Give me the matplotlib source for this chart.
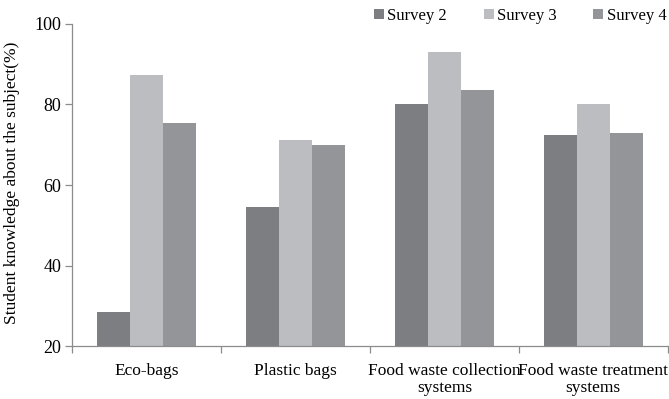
import numpy as np
import matplotlib.pyplot as plt
from matplotlib.ticker import FixedLocator

plt.rcParams['font.family'] = ['Liberation Serif', 'DejaVu Serif']

# knowledge scores per topic, one list per survey round
categories = ["Eco-bags", "Plastic bags", "Food waste collection\nsystems",
              "Food waste treatment\nsystems"]
survey2 = [28.6, 54.7, 80.2, 72.5]
survey3 = [87.4, 71.2, 93.1, 80.2]
survey4 = [75.3, 70.0, 83.5, 72.9]
series_names = ["Survey 2", "Survey 3", "Survey 4"]
yticks = [20, 40, 60, 80, 100]

colors = ["#7d7e82", "#bcbdc1", "#949599"]
axis_grey = "#8c8c8c"

fig = plt.figure(figsize=(6.69, 3.99), dpi=100)
ax = fig.add_axes([0.108, 0.1316, 0.890, 0.8088])

x = np.arange(len(categories))
w = 0.2215
bars = []
for i, (vals, c) in enumerate(zip([survey2, survey3, survey4], colors)):
    b = ax.bar(x + (i - 1) * w, vals, width=w, color=c, bottom=0,
               edgecolor='none', zorder=2)
    bars.append(b)

ax.set_xlim(-0.5, len(categories) - 0.5)
ax.set_ylim(20, 100)
ax.set_yticks(yticks)
ax.set_xticks(x)
ax.set_xticklabels(categories, fontsize=12.5, linespacing=1.05)
ax.xaxis.set_minor_locator(FixedLocator(np.arange(-0.5, len(categories), 1.0)))
ax.tick_params(axis='x', which='major', length=0, pad=12)
ax.tick_params(axis='x', which='minor', length=5, color=axis_grey, width=0.9,
               direction='out')
ax.tick_params(axis='y', length=5, color=axis_grey, width=0.9, labelsize=13,
               pad=3)

for s in ['top', 'right']:
    ax.spines[s].set_visible(False)
for s in ['left', 'bottom']:
    ax.spines[s].set_color(axis_grey)
    ax.spines[s].set_linewidth(0.9)

ax.set_ylabel("Student knowledge about the subject(%)", fontsize=12.5)
ax.yaxis.set_label_coords(-0.088, 0.508)

fig.legend(bars, series_names, loc='upper right', bbox_to_anchor=(1.0185, 1.018),
           ncol=3, frameon=False, fontsize=12, handlelength=0.6,
           handleheight=0.6, handletextpad=0.2, columnspacing=2.2)

fig.savefig("out.png", dpi=100)
